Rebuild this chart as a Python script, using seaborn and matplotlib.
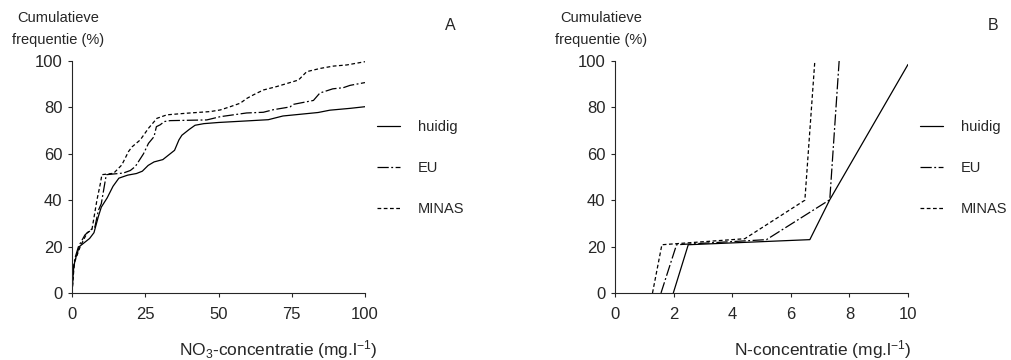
import pandas as pd
import matplotlib
matplotlib.use('Agg')
import matplotlib.pyplot as plt
import seaborn as sns

# Panel A: NO3 concentration (mg/l) vs cumulative frequency (%)
a_huidig_x = [0, 0.5, 1, 2.5, 4, 6, 7.5, 9, 10, 12, 14, 16, 19, 22, 24, 26, 28, 31, 33, 35, 36.5, 37.5,
              40, 42, 45, 50, 60, 67, 72, 80, 84, 88, 95, 100]
a_huidig_y = [0, 10, 14, 20, 21.5, 23.5, 26, 33, 37, 41, 46, 49.5, 50.8, 51.5, 52.5, 55, 56.5, 57.5, 59.5,
              61.5, 66, 68, 70.5, 72.3, 73, 73.5, 74.2, 74.7, 76.3, 77.3, 77.8, 78.8, 79.6, 80.3]
a_eu_x = [0, 0.5, 1, 2.2, 4.4, 6.1, 7.8, 9, 10, 11.7, 17.5, 19.9, 21.6, 24.4, 26.1, 28, 28.8, 30.1, 31.5,
          33.5, 46, 50.6, 59.6, 65.3, 68.7, 74.4, 75.5, 82.4, 84.6, 89, 92.6, 94.9, 100]
a_eu_y = [0, 11, 15, 20, 25, 27, 28.4, 35.6, 38.5, 51, 51.7, 52.8, 54.5, 60, 64.5, 67.4, 71.7, 72.5, 73.9,
          74.3, 74.6, 76, 77.6, 77.9, 79, 80.2, 81.3, 83, 86.2, 88, 88.5, 89.5, 90.7]
a_minas_x = [0, 0.8, 2.8, 5.1, 6.8, 8.5, 9.7, 10.2, 14.2, 17, 19.3, 20.5, 23.3, 26.1, 29, 32.4, 39.2, 47.2,
             50.6, 54, 57.4, 59.7, 61.9, 65.3, 69.9, 74.4, 77.3, 80.1, 84.7, 89.2, 93.8, 100]
a_minas_y = [0, 13, 20, 25.8, 27.3, 40, 47.3, 51, 51.6, 55.2, 61, 63, 66, 71, 75.3, 76.8, 77.5, 78.2,
             78.9, 80.3, 81.8, 83.9, 85.4, 87.5, 89, 90.7, 91.8, 95.4, 96.8, 97.8, 98.3, 99.7]

# Panel B: N concentration (mg/l) vs cumulative frequency (%)
b_huidig_x = [1.99, 2.5, 6.65, 7.33, 10]
b_huidig_y = [0, 20.8, 23, 40.2, 98.5]
b_eu_x = [1.57, 2.1, 5.17, 7.33, 7.65]
b_eu_y = [0, 20.8, 23, 40.2, 100]
b_minas_x = [1.28, 1.6, 4.43, 6.48, 6.82]
b_minas_y = [0, 20.8, 23.4, 40, 100]

labels = ['huidig', 'EU', 'MINAS']
dash_styles = ['-', (0, (9, 2, 1.5, 2)), (0, (3, 2))]

sns.set_style('ticks')
plt.rcParams['font.family'] = ['Liberation Sans', 'DejaVu Sans']
plt.rcParams['mathtext.fontset'] = 'custom'
plt.rcParams['mathtext.rm'] = 'Liberation Sans'
plt.rcParams['mathtext.it'] = 'Liberation Sans'

fig = plt.figure(figsize=(10.11, 3.6), dpi=100)
ax_a = fig.add_axes([72 / 1011, 1 - 293 / 360, 293 / 1011, 232 / 360])
ax_b = fig.add_axes([615 / 1011, 1 - 293 / 360, 293 / 1011, 232 / 360])

panels = [
    (ax_a, [(a_huidig_x, a_huidig_y), (a_eu_x, a_eu_y), (a_minas_x, a_minas_y)],
     [0, 25, 50, 75, 100], (0, 100), r'NO$_3$-concentratie (mg.l$^{\mathdefault{-1}}$)', 'A', 377),
    (ax_b, [(b_huidig_x, b_huidig_y), (b_eu_x, b_eu_y), (b_minas_x, b_minas_y)],
     [0, 2, 4, 6, 8, 10], (0, 10), r'N-concentratie (mg.l$^{\mathdefault{-1}}$)', 'B', 920),
]

for ax, series, xticks, xlim, xlabel, letter, leg_x in panels:
    for (xs, ys), lab, ls in zip(series, labels, dash_styles):
        df = pd.DataFrame({'x': xs, 'y': ys})
        sns.lineplot(data=df, x='x', y='y', ax=ax, color='black', linewidth=0.9,
                     linestyle=ls, sort=False, estimator=None, label=lab)
    ax.set_xlim(*xlim)
    ax.set_ylim(0, 100)
    ax.set_xticks(xticks)
    ax.set_yticks([0, 20, 40, 60, 80, 100])
    ax.tick_params(labelsize=12, length=3, width=0.8, pad=4)
    ax.tick_params(axis='x', pad=7)
    ax.spines['top'].set_visible(False)
    ax.spines['right'].set_visible(False)
    for s in ['left', 'bottom']:
        ax.spines[s].set_linewidth(0.8)
    ax.set_xlabel('')
    ax.set_ylabel('')
    ax.legend(loc='center left', bbox_to_anchor=(leg_x / 1011, 1 - 168 / 360),
              bbox_transform=fig.transFigure, frameon=False, fontsize=10.5,
              handlelength=1.55, handletextpad=1.25, labelspacing=1.85, borderpad=0,
              borderaxespad=0)
    # labels around the axes
    x0 = ax.get_position().x0
    fig.text(x0 - 14 / 1011, 1 - 29 / 360, 'Cumulatieve\nfrequentie (%)', ha='center', va='center',
             fontsize=10.5, linespacing=1.7)
    fig.text(x0 + (450 - 72) / 1011, 1 - 26 / 360, letter, ha='center', va='center', fontsize=11.5)
    cx = 278 if letter == 'A' else 823
    fig.text(cx / 1011, 1 - 350 / 360, xlabel, ha='center', va='center', fontsize=12.5)

fig.savefig('out.png', dpi=100)
